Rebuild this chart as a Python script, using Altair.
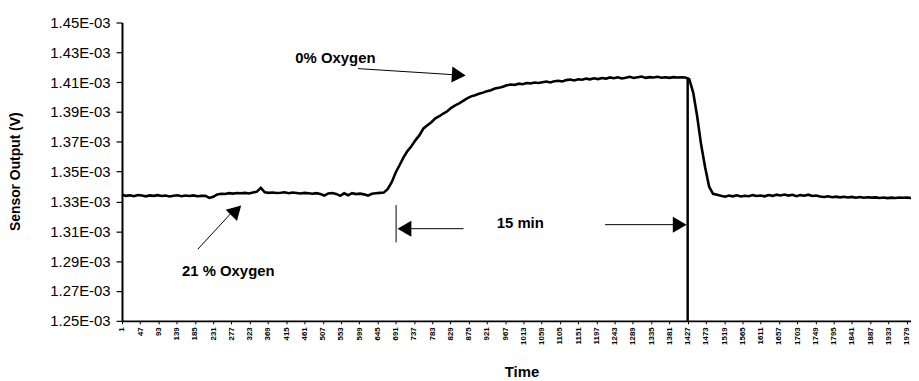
import altair as alt
import pandas as pd

# Sensor output in units of 1E-03 V, sampled every 10 time steps starting at 1
sensor_e3 = [
    1.3345, 1.3338, 1.3342, 1.3336, 1.3344, 1.3340, 1.3335, 1.3341, 1.3338, 1.3343,
    1.3337, 1.3340, 1.3334, 1.3339, 1.3342, 1.3336, 1.3340, 1.3337, 1.3341, 1.3335,
    1.3338, 1.3339, 1.3324, 1.3332, 1.3348, 1.3352, 1.3350, 1.3356, 1.3353, 1.3357,
    1.3355, 1.3358, 1.3354, 1.3360, 1.3366, 1.3392, 1.3362, 1.3358, 1.3361, 1.3357,
    1.3359, 1.3362, 1.3356, 1.3360, 1.3357, 1.3354, 1.3358, 1.3355, 1.3352, 1.3356,
    1.3350, 1.3340, 1.3354, 1.3357, 1.3351, 1.3338, 1.3355, 1.3342, 1.3356, 1.3350,
    1.3353, 1.3348, 1.3340, 1.3352, 1.3355, 1.3358, 1.3360, 1.3385, 1.3430, 1.3495,
    1.3545, 1.3598, 1.3640, 1.3672, 1.3712, 1.3745, 1.3790, 1.3812, 1.3832, 1.3858,
    1.3872, 1.3890, 1.3905, 1.3928, 1.3945, 1.3958, 1.3975, 1.3992, 1.4005, 1.4012,
    1.4022, 1.4030, 1.4040, 1.4046, 1.4058, 1.4062, 1.4070, 1.4080, 1.4084, 1.4082,
    1.4090, 1.4086, 1.4094, 1.4092, 1.4098, 1.4095, 1.4100, 1.4104, 1.4098, 1.4107,
    1.4110, 1.4105, 1.4114, 1.4118, 1.4112, 1.4120, 1.4116, 1.4124, 1.4119, 1.4126,
    1.4121, 1.4128, 1.4124, 1.4132, 1.4127, 1.4133, 1.4125, 1.4130, 1.4136, 1.4128,
    1.4133, 1.4138, 1.4129, 1.4134, 1.4131, 1.4136, 1.4130, 1.4133, 1.4129, 1.4134,
    1.4131, 1.4133, 1.4132, 1.4120, 1.4030, 1.3870, 1.3680, 1.3530, 1.3400, 1.3352,
    1.3345, 1.3338, 1.3332, 1.3340, 1.3335, 1.3342, 1.3334, 1.3339, 1.3336, 1.3343,
    1.3337, 1.3340, 1.3335, 1.3344, 1.3338, 1.3346, 1.3341, 1.3347, 1.3340, 1.3345,
    1.3336, 1.3343, 1.3339, 1.3346, 1.3337, 1.3340, 1.3334, 1.3331, 1.3335, 1.3329,
    1.3333, 1.3328, 1.3332, 1.3327, 1.3331, 1.3326, 1.3330, 1.3325, 1.3329, 1.3326,
    1.3328, 1.3324, 1.3327, 1.3323, 1.3326, 1.3324, 1.3327, 1.3325, 1.3326, 1.3324,
]
time_steps = list(range(1, 1 + 10 * len(sensor_e3), 10))

x_tick_labels = list(range(1, 1980, 46))
y_ticks_e3 = [1.25, 1.27, 1.29, 1.31, 1.33, 1.35, 1.37, 1.39, 1.41, 1.43, 1.45]

# annotations (time index, value in 1E-03 V)
switch_time = 1427
plateau_e3 = 1.4132
label_texts = ["0% Oxygen", "15 min", "21 % Oxygen"]
label_x = [539, 1005, 269]
label_y_e3 = [1.4263, 1.3158, 1.2835]

arrow_x1 = [596, 862, 1219, 192, 692]
arrow_x2 = [856, 714, 1408, 284, 692]
arrow_y1_e3 = [1.4191, 1.3118, 1.3145, 1.2980, 1.3276]
arrow_y2_e3 = [1.4147, 1.3118, 1.3145, 1.3245, 1.3026]

head_x = [850, 713, 1407, 289]
head_y_e3 = [1.4148, 1.3118, 1.3145, 1.3240]
head_shape = ["triangle-right", "triangle-left", "triangle-right", "triangle-up"]
head_angle = [4, 0, 0, 45]

E = 1e-3
df = pd.DataFrame({"t": time_steps, "v": [v * E for v in sensor_e3]})
ann = pd.DataFrame({"x": label_x, "y": [v * E for v in label_y_e3], "txt": label_texts})
arr = pd.DataFrame({"x": arrow_x1, "x2": arrow_x2,
                    "y": [v * E for v in arrow_y1_e3], "y2": [v * E for v in arrow_y2_e3]})
heads = pd.DataFrame({"x": head_x, "y": [v * E for v in head_y_e3],
                      "shp": head_shape, "ang": head_angle})
vline = pd.DataFrame({"x": [switch_time], "y": [1.25 * E], "y2": [plateau_e3 * E]})

FONT = "Liberation Sans"
xscale = alt.Scale(domain=[1, 1990], nice=False, zero=False)
yscale = alt.Scale(domain=[1.25 * E, 1.45 * E], nice=False, zero=False)

x_axis = alt.Axis(
    values=x_tick_labels, format="d", labelAngle=270, labelFontSize=8, labelFontWeight="bold",
    labelFont=FONT, labelColor="black", labelPadding=3, labelOverlap=False,
    tickSize=3, tickColor="black", domainColor="black", domainWidth=2,
    grid=False, title="Time", titleFont=FONT, titleFontSize=15, titleFontWeight="bold",
    titleColor="black", titleY=51, titleX=403, titleAlign="center", titleBaseline="middle",
)
y_axis = alt.Axis(
    values=[v * E for v in y_ticks_e3],
    labelExpr="replace(format(datum.value, '.2e'), 'e-3', 'E-03')",
    labelFont=FONT, labelFontSize=15, labelColor="black", labelPadding=6,
    tickSize=6, tickColor="black", tickWidth=1.2, domainColor="black", domainWidth=2,
    grid=False, title="Sensor Output (V)", titleFont=FONT, titleFontSize=14,
    titleFontWeight="bold", titleColor="black", titleX=-107, titleY=150,
    titleAngle=270, titleBaseline="middle", titleAlign="center",
)

X = lambda f: alt.X(f, scale=xscale, axis=x_axis)
Y = lambda f: alt.Y(f, scale=yscale, axis=y_axis)

line = alt.Chart(df).mark_line(color="black", strokeWidth=2.6).encode(
    x=X("t:Q"), y=Y("v:Q"),
)

rule = alt.Chart(vline).mark_rule(color="black", strokeWidth=2.5).encode(
    x=X("x:Q"), y=Y("y:Q"), y2="y2:Q",
)

arrows = alt.Chart(arr).mark_rule(color="black", strokeWidth=1).encode(
    x=X("x:Q"), x2="x2:Q", y=Y("y:Q"), y2="y2:Q",
)

arrowheads = alt.Chart(heads).mark_point(filled=True, color="black", opacity=1, size=260).encode(
    x=X("x:Q"), y=Y("y:Q"),
    shape=alt.Shape("shp:N", scale=None),
    angle=alt.Angle("ang:Q", scale=None),
)

texts = alt.Chart(ann).mark_text(font=FONT, fontSize=15, fontWeight="bold", color="black").encode(
    x=X("x:Q"), y=Y("y:Q"), text="txt:N",
)

chart = alt.layer(line, rule, arrows, arrowheads, texts).properties(
    width=796, height=301,
    autosize=alt.AutoSizeParams(type="none"),
    padding={"left": 115, "top": 13, "right": 0, "bottom": 58},
    background="white",
).configure_view(strokeWidth=0)

chart.save("out.html", embed_options={"renderer": "svg", "actions": False})
